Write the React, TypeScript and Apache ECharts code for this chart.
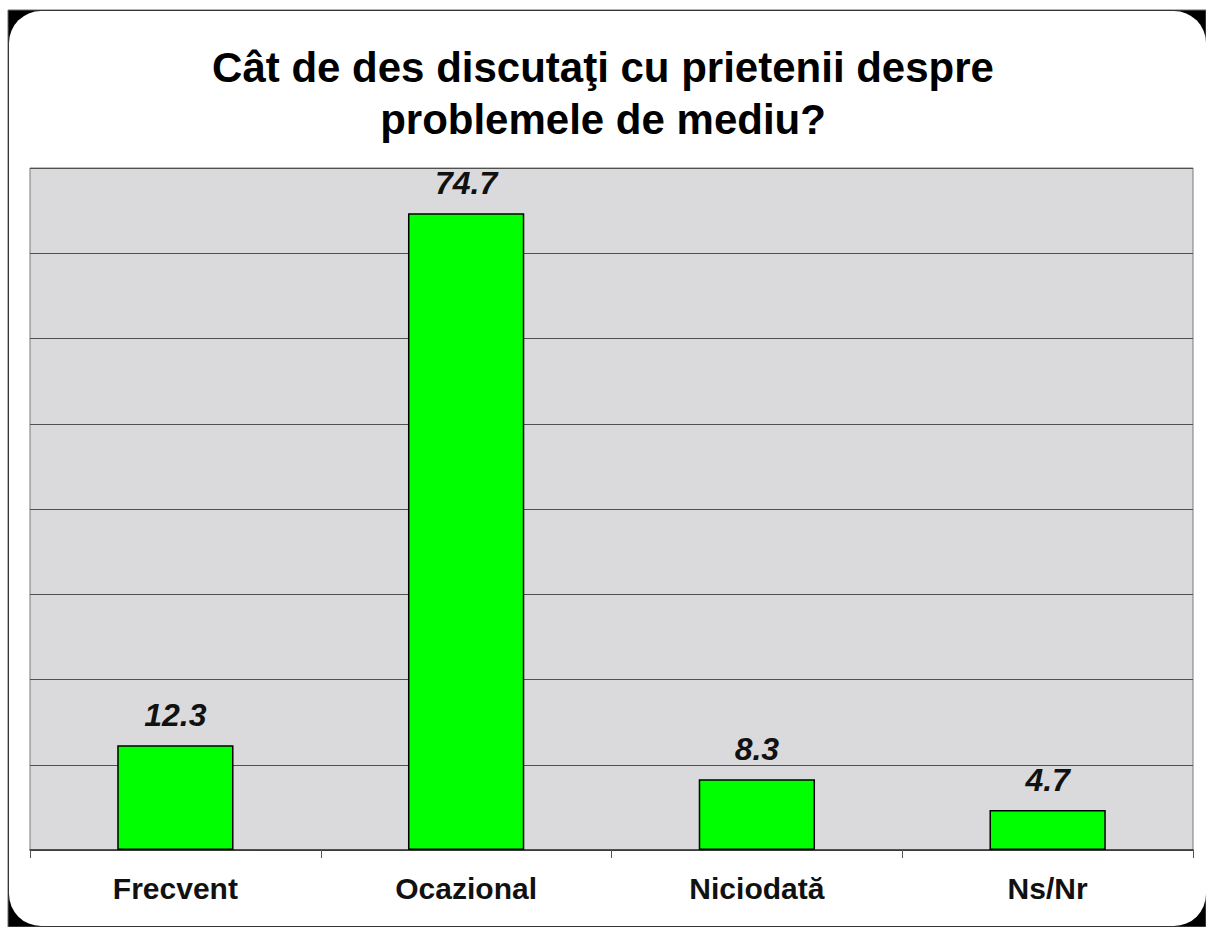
import React, { useEffect, useRef } from "react";
import * as echarts from "echarts";

const titleText = "Cât de des discutaţi cu prietenii despre\nproblemele de mediu?";
const categories = ["Frecvent", "Ocazional", "Niciodată", "Ns/Nr"];
const values = [12.3, 74.7, 8.3, 4.7];
const yMin = 0;
const yMax = 80;
const yInterval = 10;

export default function App() {
  const ref = useRef<HTMLDivElement>(null);
  useEffect(() => {
    if (!ref.current) return;
    const chart = echarts.init(ref.current, undefined, { renderer: "svg" });
    chart.setOption({
      animation: false,
      backgroundColor: "#ffffff",
      title: {
        text: titleText,
        left: "center",
        top: 36,
        textStyle: {
          fontFamily: "Liberation Sans, Arial, sans-serif",
          fontWeight: "bold",
          fontSize: 42,
          lineHeight: 52,
          color: "#000",
        },
      },
      graphic: [
        {
          type: "rect",
          z: -20,
          shape: { x: 8, y: 10, width: 1198, height: 917 },
          style: { fill: "#000", stroke: "#6a6a6a", lineWidth: 1 },
        },
        {
          type: "rect",
          z: -19,
          shape: { x: 9, y: 11, width: 1197, height: 915, r: 32 },
          style: { fill: "#fff" },
        },
      ],
      grid: {
        left: 30,
        top: 168,
        width: 1163,
        height: 682,
        show: true,
        backgroundColor: "#dadadc",
        borderColor: "#7a7a7a",
        borderWidth: 1,
      },
      xAxis: {
        type: "category",
        data: categories,
        boundaryGap: true,
        axisLine: { show: true, lineStyle: { color: "#333", width: 1.5 } },
        axisTick: { show: true, length: 8, lineStyle: { color: "#555" } },
        axisLabel: {
          margin: 23,
          fontFamily: "Liberation Sans, Arial, sans-serif",
          fontWeight: "bold",
          fontSize: 30,
          color: "#111",
        },
      },
      yAxis: {
        type: "value",
        min: yMin,
        max: yMax,
        interval: yInterval,
        axisLine: { show: false },
        axisTick: { show: false },
        axisLabel: { show: false },
        splitLine: { show: true, lineStyle: { color: "#505050", width: 1 } },
      },
      series: [
        {
          type: "bar",
          data: values,
          barWidth: "40%",
          itemStyle: { color: "#00ff00", borderColor: "#000", borderWidth: 1.5 },
          label: {
            show: true,
            position: "top",
            distance: 14,
            fontFamily: "Liberation Sans, Arial, sans-serif",
            fontWeight: "bold",
            fontStyle: "italic",
            fontSize: 32,
            color: "#111",
          },
        },
      ],
    });
    return () => chart.dispose();
  }, []);
  return (
    <div
      ref={ref}
      style={{ position: "absolute", left: 0, top: 0, width: 1206, height: 927 }}
    />
  );
}
